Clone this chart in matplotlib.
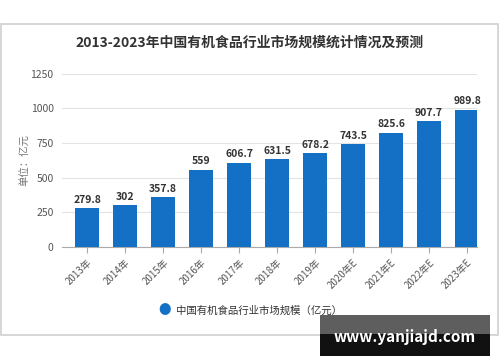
import matplotlib.pyplot as plt
from matplotlib.patches import Rectangle

plt.rcParams['font.family'] = ['Noto Sans CJK SC', 'DejaVu Sans']

years = ['2013年', '2014年', '2015年', '2016年', '2017年', '2018年', '2019年',
         '2020年E', '2021年E', '2022年E', '2023年E']
market_size = [279.8, 302, 357.8, 559, 606.7, 631.5, 678.2, 743.5, 825.6, 907.7, 989.8]
value_labels = ['279.8', '302', '357.8', '559', '606.7', '631.5', '678.2',
                '743.5', '825.6', '907.7', '989.8']
y_ticks = [0, 250, 500, 750, 1000, 1250]

bar_color = '#1470c4'

fig = plt.figure(figsize=(5.0, 3.62), dpi=100)
fig.patches.append(Rectangle((0.002, 0.075), 0.994, 0.858, transform=fig.transFigure,
                             fill=False, edgecolor='#d0d0d0', linewidth=1.2))

ax = fig.add_axes([0.124, 0.318, 0.83, 0.478])
x = range(len(years))
ax.bar(x, market_size, width=0.63, color=bar_color, zorder=3)
for i, (v, lbl) in enumerate(zip(market_size, value_labels)):
    ax.text(i, v + 25, lbl, ha='center', va='bottom', fontsize=7.5,
            fontweight='bold', color='#333333')

ax.set_ylim(0, 1250)
ax.set_xlim(-0.66, len(years) - 0.74)
ax.set_yticks(y_ticks)
ax.tick_params(axis='y', length=0, labelsize=7.5, labelcolor='#555555', pad=6)
ax.set_xticks(list(x))
ax.set_xticklabels(years, rotation=45, ha='right', rotation_mode='anchor',
                   fontsize=7, color='#555555')
ax.tick_params(axis='x', length=4, color='#aaaaaa')
ax.yaxis.grid(True, color='#e3e3e3', linewidth=0.8, zorder=0)
for s in ['top', 'right', 'left']:
    ax.spines[s].set_visible(False)
ax.spines['bottom'].set_color('#aaaaaa')
ax.set_ylabel('单位：亿元', fontsize=7.5, color='#777777', labelpad=0)

fig.text(0.5, 0.882, '2013-2023年中国有机食品行业市场规模统计情况及预测',
         ha='center', va='center', fontsize=10, fontweight='bold', color='#333333')

# legend
fig.text(0.33, 0.141, '●', ha='center', va='center', fontsize=9, color=bar_color)
fig.text(0.352, 0.141, '中国有机食品行业市场规模（亿元）', ha='left', va='center',
         fontsize=7.5, color='#333333')

# watermark
fig.patches.append(Rectangle((0.64, 0.017), 0.34, 0.06, transform=fig.transFigure,
                             facecolor='#111111', edgecolor='none', zorder=5))
fig.patches.append(Rectangle((0.64, 0.077), 0.34, 0.053, transform=fig.transFigure,
                             facecolor='#5e5e5e', edgecolor='none', zorder=5))
fig.text(0.81, 0.068, 'www.yanjiajd.com', ha='center', va='center', fontsize=11,
         fontweight='bold', color='white', zorder=6)

fig.savefig('out.png', dpi=100)
